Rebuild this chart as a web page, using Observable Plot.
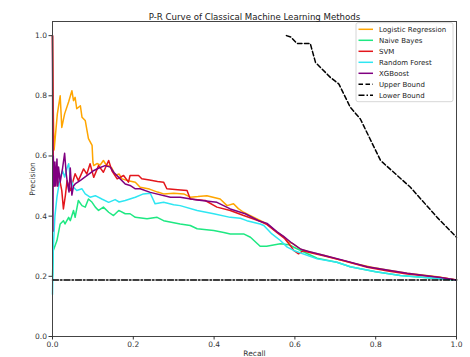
<!DOCTYPE html>
<html><head><meta charset="utf-8">
<script src="https://cdn.jsdelivr.net/npm/d3@7"></script>
<script src="https://cdn.jsdelivr.net/npm/@observablehq/plot@0.6"></script>
<style>body{margin:0;background:#fff}</style>
</head><body><div id="chart"></div>
<script>
const title = "P-R Curve of Classical Machine Learning Methods";
const xLabel = "Recall";
const yLabel = "Precision";
const tickValues = [0, 0.2, 0.4, 0.6, 0.8, 1.0];
const seriesNames = ["Logistic Regression", "Naive Bayes", "SVM", "Random Forest", "XGBoost", "Upper Bound", "Lower Bound"];
const seriesColors = ["#ffa500", "#1ee882", "#e3161c", "#2ee6f2", "#800080", "#000000", "#000000"];
const seriesDash = [null, null, null, null, null, "4.5,2.5", "6,2,1.5,2"];

const recallLR = [0,0.002,0.004,0.012,0.019,0.023,0.03,0.04,0.048,0.052,0.056,0.06,0.069,0.073,0.081,0.089,0.098,0.1,0.102,0.11,0.118,0.126,0.133,0.139,0.147,0.155,0.165,0.172,0.188,0.205,0.217,0.24,0.26,0.275,0.3,0.325,0.341,0.36,0.382,0.415,0.432,0.448,0.46,0.473,0.49,0.51,0.531,0.556,0.572,0.584,0.593,0.614,0.634,0.671,0.713,0.75,0.79,0.828,0.878,0.952,1.0];
const precLR   = [1,0.75,0.62,0.74,0.80,0.695,0.74,0.78,0.817,0.784,0.795,0.757,0.767,0.729,0.718,0.658,0.635,0.58,0.568,0.575,0.57,0.585,0.57,0.568,0.56,0.535,0.54,0.524,0.518,0.513,0.496,0.49,0.48,0.474,0.476,0.474,0.463,0.465,0.468,0.457,0.435,0.441,0.425,0.413,0.402,0.388,0.374,0.346,0.332,0.313,0.31,0.29,0.282,0.27,0.254,0.242,0.23,0.221,0.21,0.199,0.188];

const recallNB = [0,0.002,0.011,0.019,0.027,0.031,0.04,0.044,0.052,0.056,0.064,0.073,0.081,0.089,0.098,0.106,0.114,0.126,0.139,0.151,0.164,0.18,0.192,0.205,0.234,0.259,0.275,0.316,0.341,0.358,0.399,0.424,0.44,0.473,0.49,0.514,0.53,0.564,0.585,0.6,0.655,0.704,0.737,0.8,0.861,0.93,1.0];
const precNB   = [0.2,0.286,0.319,0.374,0.385,0.374,0.396,0.385,0.419,0.396,0.452,0.435,0.43,0.457,0.446,0.43,0.419,0.43,0.413,0.402,0.419,0.408,0.408,0.396,0.391,0.396,0.385,0.374,0.369,0.358,0.352,0.346,0.341,0.341,0.33,0.3,0.3,0.308,0.305,0.295,0.26,0.247,0.232,0.215,0.203,0.195,0.188];

const recallSVM = [0,0.002,0.005,0.008,0.012,0.018,0.023,0.027,0.032,0.036,0.044,0.056,0.064,0.077,0.085,0.093,0.102,0.114,0.126,0.139,0.147,0.16,0.176,0.188,0.192,0.213,0.221,0.24,0.26,0.275,0.283,0.31,0.333,0.341,0.378,0.407,0.44,0.473,0.51,0.531,0.556,0.575,0.59,0.597,0.609,0.62,0.634,0.671,0.721,0.779,0.83,0.878,0.96,1.0];
const precSVM   = [1,0.55,0.5,0.56,0.5,0.52,0.485,0.424,0.47,0.518,0.485,0.541,0.518,0.557,0.54,0.574,0.529,0.568,0.546,0.585,0.551,0.524,0.535,0.513,0.535,0.535,0.524,0.52,0.515,0.513,0.491,0.488,0.485,0.457,0.452,0.43,0.419,0.402,0.385,0.372,0.345,0.325,0.3,0.286,0.275,0.285,0.28,0.268,0.252,0.23,0.218,0.208,0.196,0.188];

const recallRF = [0,0.002,0.006,0.011,0.019,0.025,0.03,0.036,0.04,0.044,0.052,0.06,0.073,0.081,0.093,0.106,0.122,0.139,0.155,0.165,0.18,0.205,0.225,0.242,0.254,0.275,0.3,0.316,0.358,0.399,0.44,0.465,0.481,0.514,0.523,0.543,0.564,0.581,0.597,0.655,0.704,0.737,0.8,0.861,0.93,1.0];
const precRF   = [0.14,0.297,0.4,0.463,0.529,0.551,0.53,0.56,0.574,0.529,0.496,0.485,0.491,0.474,0.463,0.468,0.457,0.446,0.455,0.447,0.452,0.463,0.474,0.476,0.441,0.446,0.438,0.435,0.419,0.408,0.396,0.393,0.385,0.374,0.369,0.341,0.319,0.297,0.286,0.258,0.247,0.232,0.215,0.203,0.195,0.188];

const recallXGB = [0,0.001,0.002,0.004,0.006,0.008,0.011,0.013,0.015,0.019,0.025,0.03,0.034,0.038,0.041,0.044,0.048,0.052,0.056,0.07,0.085,0.1,0.115,0.13,0.143,0.152,0.164,0.18,0.192,0.205,0.217,0.242,0.292,0.316,0.358,0.407,0.44,0.477,0.51,0.531,0.556,0.572,0.593,0.615,0.634,0.671,0.721,0.779,0.878,0.96,1.0];
const precXGB   = [1,0.35,0.6,0.5,0.58,0.5,0.59,0.5,0.563,0.513,0.56,0.609,0.54,0.5,0.48,0.56,0.47,0.5,0.507,0.52,0.535,0.55,0.56,0.568,0.563,0.545,0.529,0.507,0.502,0.491,0.491,0.479,0.463,0.463,0.454,0.446,0.424,0.408,0.385,0.376,0.348,0.333,0.31,0.29,0.283,0.27,0.253,0.232,0.21,0.196,0.188];

const recallUpper = [0.579,0.59,0.605,0.638,0.651,0.688,0.709,0.737,0.762,0.812,0.886,0.952,1.0];
const precUpper   = [1.0,0.995,0.974,0.974,0.911,0.861,0.839,0.762,0.723,0.585,0.496,0.396,0.33];

const recallLower = [0, 1];
const precLower   = [0.188, 0.188];

const toRows = (xs, ys) => xs.map((x, i) => ({x, y: ys[i]}));
const series = [
  toRows(recallLR, precLR),
  toRows(recallNB, precNB),
  toRows(recallSVM, precSVM),
  toRows(recallRF, precRF),
  toRows(recallXGB, precXGB),
  toRows(recallUpper, precUpper),
  toRows(recallLower, precLower)
];

const W = 470, H = 357;
const mL = 52, mR = 14, mT = 21, mB = 21;

const lineMarks = series.map((rows, i) => Plot.line(rows, {
  x: "x", y: "y", stroke: seriesColors[i], strokeWidth: 1.5,
  strokeDasharray: seriesDash[i] || undefined, curve: "linear"
}));

const chart = Plot.plot({
  width: W, height: H,
  marginLeft: mL, marginRight: mR, marginTop: mT, marginBottom: mB,
  style: {fontFamily: "DejaVu Sans, sans-serif", fontSize: "7.5px", background: "white", color: "#333"},
  x: {domain: [0, 1]},
  y: {domain: [0, 1.047]},
  marks: [
    ...lineMarks,
    Plot.frame({stroke: "#444", strokeWidth: 1}),
    Plot.axisX({ticks: tickValues, tickFormat: d => d.toFixed(1), tickSize: 3.5, tickPadding: 1.5,
      label: xLabel, labelAnchor: "center", labelArrow: "none", labelOffset: 19}),
    Plot.axisY({ticks: tickValues, tickFormat: d => d.toFixed(1), tickSize: 3.5, tickPadding: 2,
      label: yLabel, labelAnchor: "center", labelArrow: "none", labelOffset: 23}),
    Plot.text([title], {frameAnchor: "top", dy: -8, fontSize: 8.6, fill: "#222"})
  ]
});

// legend
const lg = d3.select(chart).append("g")
  .attr("font-family", "DejaVu Sans, sans-serif").attr("font-size", 7)
  .attr("text-anchor", "start");
const lx = 356, ly = 22.7, lw = 97, lh = 79, step = 11;
lg.append("rect").attr("x", lx).attr("y", ly).attr("width", lw).attr("height", lh)
  .attr("rx", 2).attr("fill", "white").attr("fill-opacity", 0.85).attr("stroke", "#cccccc").attr("stroke-width", 0.8);
seriesNames.forEach((name, i) => {
  const yy = ly + 6.6 + i * step;
  lg.append("line").attr("x1", lx + 2.5).attr("x2", lx + 17).attr("y1", yy).attr("y2", yy)
    .attr("stroke", seriesColors[i]).attr("stroke-width", 1.5)
    .attr("stroke-dasharray", seriesDash[i] || null);
  lg.append("text").attr("x", lx + 23).attr("y", yy).attr("dy", "0.35em")
    .attr("text-anchor", "start").attr("fill", "#222").text(name);
});

document.getElementById("chart").appendChild(chart);
</script></body></html>
